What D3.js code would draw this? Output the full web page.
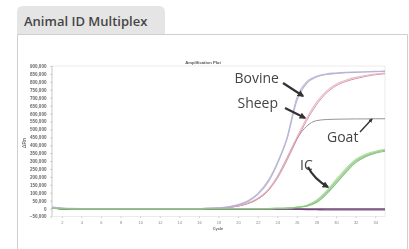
<!DOCTYPE html>
<html><head><meta charset="utf-8">
<script src="https://cdn.jsdelivr.net/npm/d3@7"></script>
<style>
html,body{margin:0;padding:0;background:#fff;}
svg{display:block;}
</style></head>
<body>
<script>
// ---- data ----
const cardTitle = "Animal ID Multiplex";
const chartTitle = "Amplification Plot";
const xLabel = "Cycle";
const yLabel = "ΔRn";
const cycles = d3.range(1, 36);
const xTicks = [2,4,6,8,10,12,14,16,18,20,22,24,26,28,30,32,34];
const yTicks = [-50000,0,50000,100000,150000,200000,250000,300000,350000,400000,450000,500000,550000,600000,650000,700000,750000,800000,850000,900000];
// values per cycle 1..35
const bovineA = [9000,3000,1000,0,0,0,0,0,0,0,0,0,0,0,0,0,2000,5000,12000,25000,50000,95000,170000,290000,450000,700000,800000,835000,850000,856000,860000,862000,864000,866000,868000];
const bovineB = [6000,2000,0,0,0,0,0,0,0,0,0,0,0,0,0,0,1500,4000,10000,22000,45000,88000,160000,280000,440000,680000,790000,830000,846000,853000,857000,860000,862000,864000,866000];
const sheepA  = [8000,2000,0,0,0,0,0,0,0,0,0,0,0,0,0,0,1000,3000,8000,18000,35000,65000,115000,200000,320000,450000,570000,670000,740000,785000,810000,828000,840000,850000,855000];
const sheepB  = [5000,1000,0,0,0,0,0,0,0,0,0,0,0,0,0,0,800,2500,7000,16000,32000,60000,108000,190000,305000,435000,555000,655000,728000,775000,802000,820000,834000,845000,851000];
const goat    = [4000,0,0,0,0,0,0,0,0,0,0,0,0,0,0,0,800,2500,7000,16000,32000,60000,110000,200000,320000,440000,520000,555000,562000,564000,565000,566000,566000,567000,567000];
const ic1     = [3000,0,0,0,0,0,0,0,0,0,0,0,0,0,0,0,0,0,0,0,0,0,0,1000,3000,8000,18000,45000,100000,170000,240000,300000,335000,355000,368000];
const ic2     = [2000,0,0,0,0,0,0,0,0,0,0,0,0,0,0,0,0,0,0,0,0,0,0,800,2500,7000,15000,38000,90000,158000,228000,290000,328000,350000,362000];
const ic3     = [2000,0,0,0,0,0,0,0,0,0,0,0,0,0,0,0,0,0,0,0,0,0,0,1200,3500,9000,21000,52000,110000,182000,252000,310000,343000,362000,374000];
const negA    = [6000,-1000,-2000,-2000,-2000,-2000,-2000,-2000,-2000,-2000,-2000,-2000,-2000,-2000,-2000,-2000,-2000,-2000,-2000,-2000,-2000,-2000,-2000,-2000,-2000,-2000,-2000,-2000,-2000,-2000,-2000,-2000,-2000,-2000,-2000];
const negB    = [4000,-3000,-4000,-4000,-4000,-4000,-4000,-4000,-4000,-4000,-4000,-4000,-4000,-4000,-4000,-4000,-4000,-4000,-4000,-4000,-4000,-4000,-4000,-4000,-4000,-5000,-6000,-7000,-8000,-8000,-8000,-8000,-8000,-8000,-8000];
const labelNames = ["Bovine","Sheep","Goat","IC"];

// ---- drawing ----
const W = 409, H = 249;
const svg = d3.select("body").append("svg").attr("width", W).attr("height", H);

const defs = svg.append("defs");
defs.append("filter").attr("id", "soft").attr("x", "-5%").attr("y", "-5%").attr("width", "110%").attr("height", "110%")
  .append("feGaussianBlur").attr("stdDeviation", 0.35);

// card
svg.append("path")
  .attr("d", "M17,34 L17,12 Q17,6 23,6 L159,6 Q165,6 165,12 L165,34 Z")
  .attr("fill", "#e5e5e5");
svg.append("path")
  .attr("d", "M17.5,249 L17.5,34.5 L407.5,34.5 L407.5,249")
  .attr("fill", "none").attr("stroke", "#cfcfcf").attr("stroke-width", 1);
svg.append("text").attr("x", 24).attr("y", 26)
  .attr("font-family", "Open Sans").attr("font-weight", 600).attr("font-size", 13)
  .attr("fill", "#454545").text(cardTitle);

const m = {l: 52, r: 385, t: 66, b: 216.5};
const x = d3.scaleLinear().domain([1, 35]).range([m.l, m.r]);
const y = d3.scaleLinear().domain([-50000, 900000]).range([m.b, m.t]);

// frame
svg.append("rect").attr("x", m.l).attr("y", m.t).attr("width", m.r - m.l).attr("height", m.b - m.t)
  .attr("fill", "#fff").attr("stroke", "#e6e6e6").attr("stroke-width", 0.8);
svg.append("line").attr("x1", m.l).attr("x2", m.l).attr("y1", m.t).attr("y2", m.b)
  .attr("stroke", "#c8c8c8").attr("stroke-width", 0.8);

const chart = svg.append("g").attr("filter", "url(#soft)");

// title
chart.append("text").attr("x", 203).attr("y", 63.5).attr("text-anchor", "middle")
  .attr("font-family", "Liberation Sans").attr("font-size", 4.2).attr("font-weight", "bold")
  .attr("fill", "#555").text(chartTitle);

// y axis
const yAxis = chart.append("g").attr("transform", `translate(${m.l},0)`)
  .call(d3.axisLeft(y).tickValues(yTicks).tickSize(1.5).tickFormat(d3.format(",")));
yAxis.select(".domain").remove();
yAxis.selectAll("text").attr("font-family", "Liberation Sans").attr("font-size", 4.6)
  .attr("font-weight", "bold").attr("fill", "#666").attr("dx", -1);
yAxis.selectAll("line").attr("stroke", "#bbb");

chart.append("text").attr("transform", "translate(26,143) rotate(-90)").attr("text-anchor", "middle")
  .attr("font-family", "Liberation Sans").attr("font-size", 5).attr("font-weight", "bold")
  .attr("fill", "#777").text(yLabel);

// x axis
const xAxis = chart.append("g").attr("transform", `translate(0,${m.b})`)
  .call(d3.axisBottom(x).tickValues(xTicks).tickSize(1.5).tickFormat(d3.format("d")));
xAxis.select(".domain").remove();
xAxis.selectAll("text").attr("font-family", "Liberation Sans").attr("font-size", 4)
  .attr("fill", "#888").attr("dy", 2.5);
xAxis.selectAll("line").attr("stroke", "#ccc");
chart.append("text").attr("x", 218).attr("y", 229.5).attr("text-anchor", "middle")
  .attr("font-family", "Liberation Sans").attr("font-size", 4).attr("font-weight", "bold")
  .attr("fill", "#666").text(xLabel);

// curves
const line = d3.line().x((d, i) => x(cycles[i])).y(d => y(d)).curve(d3.curveMonotoneX);
const series = [
  {v: negB, c: "#7a3f86", w: 1.3},
  {v: negA, c: "#5b3d5f", w: 1.4},
  {v: goat, c: "#8d868c", w: 1.0},
  {v: sheepB, c: "#cf8a9a", w: 1.0},
  {v: sheepA, c: "#e8b0c0", w: 1.1},
  {v: bovineB, c: "#b0adbd", w: 1.1},
  {v: bovineA, c: "#b4b2e0", w: 1.1},
  {v: ic2, c: "#7dbd76", w: 1.2},
  {v: ic3, c: "#a8d99a", w: 1.2},
  {v: ic1, c: "#8ac77e", w: 1.1}
];
chart.append("g").selectAll("path").data(series).join("path")
  .attr("d", d => line(d.v)).attr("fill", "none")
  .attr("stroke", d => d.c).attr("stroke-width", d => d.w).attr("opacity", 0.9);

// annotations
defs.append("marker").attr("id", "ah").attr("viewBox", "0 0 10 10")
  .attr("refX", 8).attr("refY", 5).attr("markerWidth", 3).attr("markerHeight", 3)
  .attr("orient", "auto").append("path").attr("d", "M0,0 L10,5 L0,10 Z").attr("fill", "#333");

const ann = [
  {t: labelNames[0], lx: 234.5, ly: 82.5, a: [283, 83, 303, 96], w: 2.2},
  {t: labelNames[1], lx: 237.5, ly: 108, a: [285, 108, 305, 118], w: 2.2},
  {t: labelNames[2], lx: 327, ly: 142, a: [360, 132, 372, 119], w: 1.4},
  {t: labelNames[3], lx: 300, ly: 170, a: [308, 167, 328, 187], w: 2.2}
];
svg.append("g").selectAll("text").data(ann).join("text")
  .attr("x", d => d.lx).attr("y", d => d.ly)
  .attr("font-family", "Open Sans").attr("font-size", 14).attr("fill", "#444")
  .text(d => d.t);
svg.append("g").selectAll("path").data(ann).join("path")
  .attr("d", d => {
    const [x1, y1, x2, y2] = d.a;
    if (d.t === "IC") return `M${x1},${y1} Q${x1 + 6},${y1 + 12} ${x2},${y2}`;
    return `M${x1},${y1} L${x2},${y2}`;
  })
  .attr("fill", "none").attr("stroke", "#333").attr("stroke-width", d => d.w)
  .attr("marker-end", "url(#ah)");
</script>
</body></html>
